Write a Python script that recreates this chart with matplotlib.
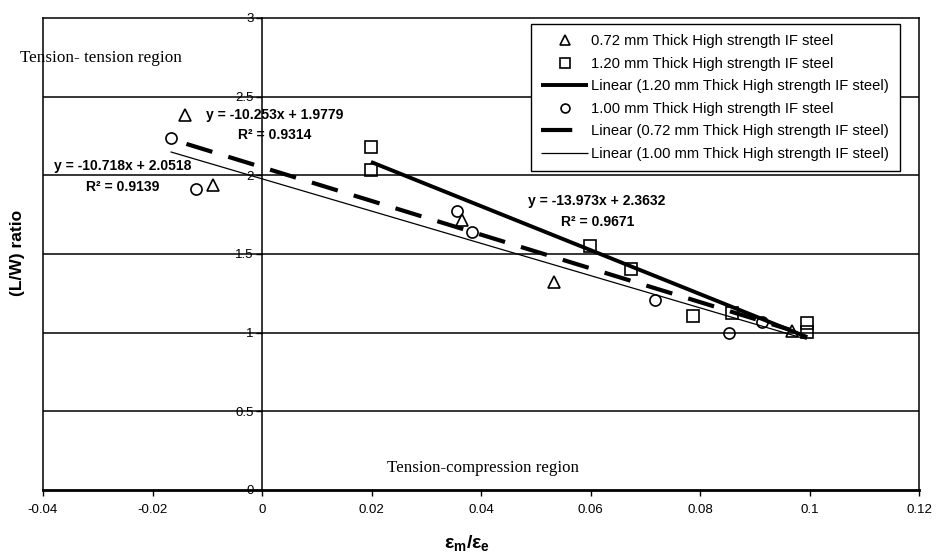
import matplotlib
matplotlib.use("Agg")
import matplotlib.pyplot as plt
from matplotlib import font_manager
from matplotlib.lines import Line2D

# ---------------- data ----------------
tri_x = [-0.0141, -0.0090, 0.0365, 0.0533, 0.0968]
tri_y = [2.383, 1.939, 1.716, 1.322, 1.013]
sq_x = [0.0199, 0.0199, 0.0599, 0.0674, 0.0788, 0.0858, 0.0996, 0.0996]
sq_y = [2.178, 2.034, 1.551, 1.405, 1.106, 1.123, 1.063, 1.006]
circ_x = [-0.0167, -0.0121, 0.0357, 0.0383, 0.0718, 0.0853, 0.0913]
circ_y = [2.239, 1.911, 1.775, 1.640, 1.208, 1.000, 1.070]

series_names = ["0.72 mm Thick High strength IF steel",
                "1.20 mm Thick High strength IF steel",
                "1.00 mm Thick High strength IF steel"]
# trend lines as drawn: [dashed (0.72), thick (1.20), thin (1.00)]
fit_slope = [-10.718, -13.973, -10.253]
fit_icpt = [2.0518, 2.3632, 1.9779]
fit_r2 = [0.9139, 0.9671, 0.9314]
fit_x0 = [-0.0138, 0.0199, -0.0167]
fit_x1 = [0.0964, 0.0996, 0.0995]

x_ticks = [-0.04, -0.02, 0, 0.02, 0.04, 0.06, 0.08, 0.1, 0.12]
x_ticklabels = ["-0.04", "-0.02", "0", "0.02", "0.04", "0.06", "0.08", "0.1", "0.12"]
y_ticks = [0, 0.5, 1, 1.5, 2, 2.5, 3]
y_ticklabels = ["0", "0.5", "1", "1.5", "2", "2.5", "3"]

# ---------------- fonts ----------------
names = {f.name for f in font_manager.fontManager.ttflist}
if "Liberation Sans Narrow" in names:
    NARROW, fs_tick, fs_leg, fs_eq = "Liberation Sans Narrow", 11, 11, 11.5
else:
    NARROW, fs_tick, fs_leg, fs_eq = "Liberation Sans", 9.5, 10.6, 10
SERIF = "Liberation Serif"
plt.rcParams["font.family"] = [NARROW, "DejaVu Sans"]
plt.rcParams["mathtext.fontset"] = "custom"
plt.rcParams["mathtext.bf"] = "Liberation Sans:bold"
plt.rcParams["mathtext.rm"] = "Liberation Sans"
plt.rcParams["mathtext.it"] = "Liberation Sans:italic"

W, H = 939, 557
fig = plt.figure(figsize=(W / 100, H / 100), dpi=100)
ax = fig.add_axes([43 / W, 67 / H, 876 / W, 472 / H])
ax.set_xlim(-0.04, 0.12)
ax.set_ylim(0, 3)

def px(x, y):
    return x / W, 1 - y / H

# grid lines
for yv in y_ticks[1:-1]:
    ax.axhline(yv, color="black", lw=1.1, zorder=1)

# frame
ax.spines["left"].set_position(("data", 0))
ax.spines["left"].set_linewidth(1.1)
ax.spines["top"].set_linewidth(1.1)
ax.spines["right"].set_linewidth(1.1)
ax.spines["bottom"].set_linewidth(2.0)
ax.axvline(-0.04, color="black", lw=1.1, clip_on=False, zorder=1)

ax.set_xticks(x_ticks)
ax.set_xticklabels(x_ticklabels)
ax.set_yticks(y_ticks)
ax.set_yticklabels(y_ticklabels)
ax.tick_params(axis="both", direction="out", length=4, width=1, labelsize=fs_tick, pad=2)
ax.tick_params(axis="x", pad=6)

# trend lines
styles = [dict(lw=3.0, ls=(0, (6.5, 4))),
          dict(lw=2.8, ls="-"),
          dict(lw=0.9, ls="-")]
lines = []
for i in range(3):
    xs = [fit_x0[i], fit_x1[i]]
    ys = [fit_slope[i] * xv + fit_icpt[i] for xv in xs]
    ln, = ax.plot(xs, ys, color="black", zorder=3, solid_capstyle="butt",
                  dash_capstyle="butt", **styles[i])
    lines.append(ln)

mk = dict(color="black", ls="none", mfc="none", mew=1.2, zorder=4)
h_tri, = ax.plot(tri_x, tri_y, marker="^", ms=8.5, **mk)
h_sq, = ax.plot(sq_x, sq_y, marker="s", ms=8.5, **mk)
h_circ, = ax.plot(circ_x, circ_y, marker="o", ms=8, **mk)

# legend
handles = [h_tri, h_sq, lines[1], h_circ,
           Line2D([0], [0], color="black", lw=3.0, ls=(0, (7.5, 20))),
           lines[2]]
labels = [series_names[0], series_names[1],
          "Linear (" + series_names[1] + ")",
          series_names[2],
          "Linear (" + series_names[0] + ")",
          "Linear (" + series_names[2] + ")"]
leg = ax.legend(handles, labels, loc="upper left",
                bbox_to_anchor=px(531, 24), bbox_transform=fig.transFigure,
                borderaxespad=0, fontsize=fs_leg, frameon=True, fancybox=False,
                edgecolor="black", framealpha=1, markerscale=0.8,
                handlelength=3.2, handletextpad=0.2, labelspacing=0.58,
                borderpad=0.7)
leg.get_frame().set_linewidth(1.0)

# equations (positions per drawn line)
eq_pos = [((123, 166), (123, 187)), ((597, 201), (598, 222)), ((275, 115), (275, 135))]
for i in range(3):
    (ex, ey), (rx, ry) = eq_pos[i]
    fig.text(*px(ex, ey), f"y = {fit_slope[i]}x + {fit_icpt[i]:.4f}", ha="center",
             va="center", fontsize=fs_eq, fontweight="bold")
    fig.text(*px(rx, ry), f"R² = {fit_r2[i]:.4f}", ha="center", va="center",
             fontsize=fs_eq, fontweight="bold")

# region labels
fig.text(*px(20, 58), "Tension- tension region", ha="left", va="center",
         fontsize=12.3, family=SERIF)
fig.text(*px(483, 468), "Tension-compression region", ha="center", va="center",
         fontsize=12.2, family=SERIF)

# axis labels
fig.text(*px(18, 253), "(L/W) ratio", rotation=90, ha="center", va="center",
         fontsize=12.5, fontweight="bold", family="Liberation Sans")
fig.text(*px(467, 543), r"$\mathbf{ε_m/ε_e}$", ha="center", va="center",
         fontsize=14)

fig.savefig("out.png", dpi=100)
